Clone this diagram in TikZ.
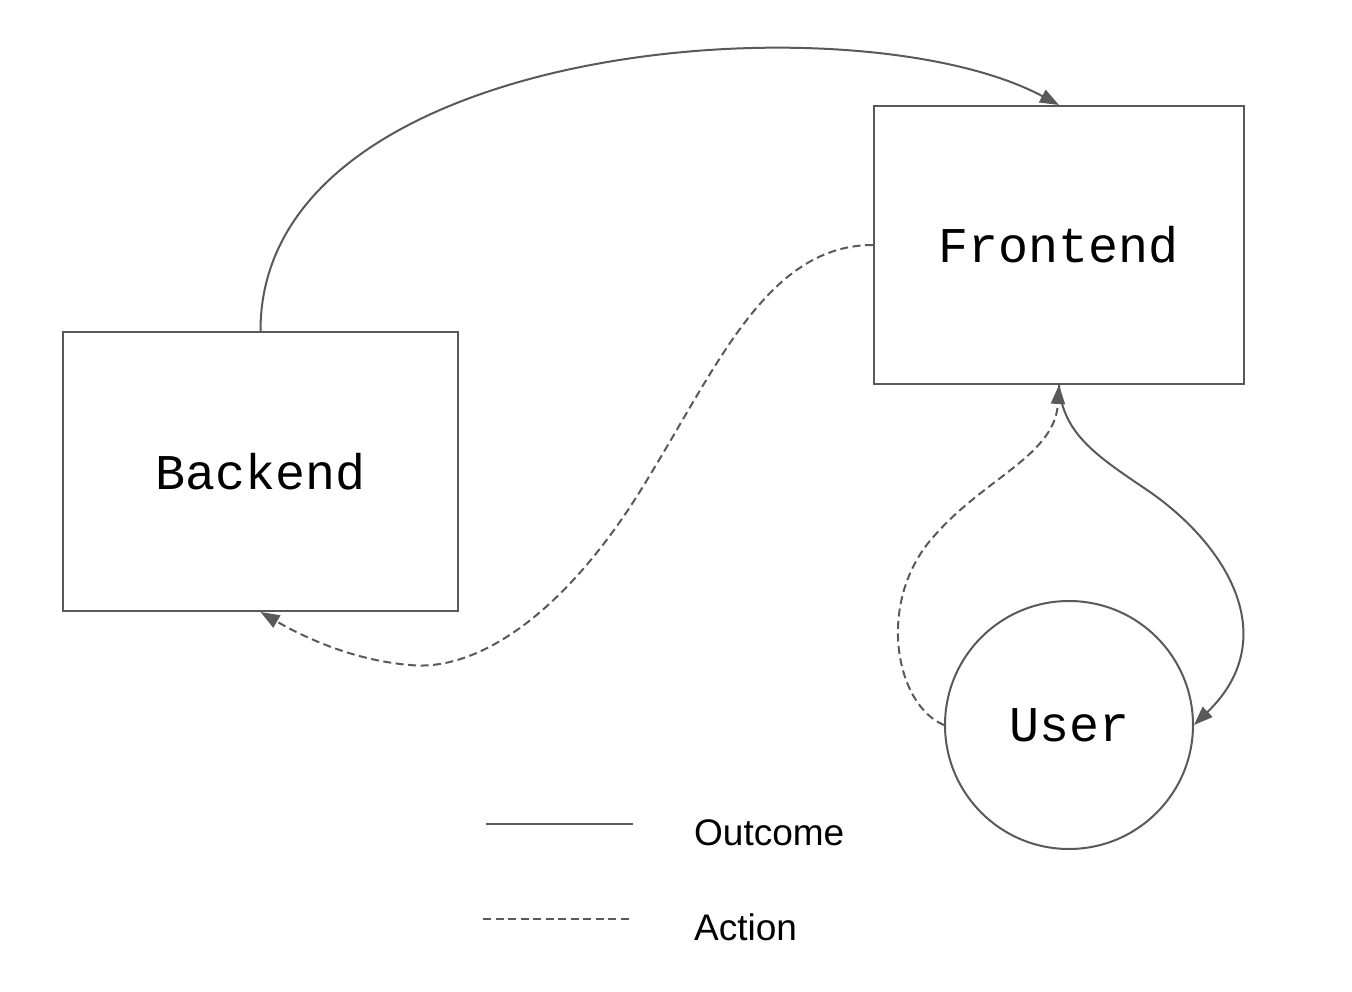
\documentclass[tikz,border=0pt]{standalone}
\usepackage{fontspec}
\setmainfont{Liberation Sans}
\setmonofont{Liberation Mono}
\usetikzlibrary{arrows.meta}
\definecolor{ln}{HTML}{595959}
\tikzset{
  box/.style={draw=ln, line width=2pt, rectangle, inner sep=0pt, font=\ttfamily\fontsize{50}{60}\selectfont},
  usr/.style={draw=ln, line width=2pt, circle, inner sep=0pt, minimum size=248pt, font=\ttfamily\fontsize{50}{60}\selectfont},
  conn/.style={draw=ln, line width=2pt},
  act/.style={conn, dash pattern=on 8pt off 4.5pt},
  tip/.style={-{Triangle[length=19pt,width=14pt]}},
  legtext/.style={font=\fontsize{37}{44}\selectfont, anchor=base west, inner sep=0pt},
}
\begin{document}
\begin{tikzpicture}[x=1pt,y=-1pt]
\useasboundingbox (0,0) rectangle (1352,992);
\node[box, minimum width=370pt, minimum height=278pt] (fe) at (1059,245) {Frontend};
\node[box, minimum width=395pt, minimum height=279pt] (bk) at (260.5,471.5) {Backend};
\node[usr] (us) at (1069,725) {User};
% Outcome: Backend -> Frontend
\draw[conn, tip] (bk.north) .. controls (260,40) and (855,-4) .. (fe.north);
% Action: Frontend -> Backend
\draw[act, tip] (fe.west) .. controls (770,245) and (720,360) .. (650,475)
  .. controls (570,610) and (480,672) .. (410,665)
  .. controls (350,660) and (300,635) .. (bk.south);
% Outcome: Frontend -> User
\draw[conn, tip] (fe.south) .. controls (1062,435) and (1100,458) .. (1150,492)
  .. controls (1230,548) and (1282,640) .. (us.east);
% Action: User -> Frontend
\draw[act, tip] (us.west) .. controls (895,705) and (875,600) .. (935,535)
  .. controls (985,478) and (1055,455) .. (fe.south);
% Legend
\coordinate (l1a) at (486,824);
\coordinate (l1b) at (633,824);
\coordinate (l2a) at (483,919);
\coordinate (l2b) at (632,919);
\draw[conn] (l1a) -- (l1b);
\draw[act] (l2a) -- (l2b);
\node[legtext] (lo) at (694,845) {Outcome};
\node[legtext] (la) at (694,940) {Action};
\end{tikzpicture}
\end{document}
